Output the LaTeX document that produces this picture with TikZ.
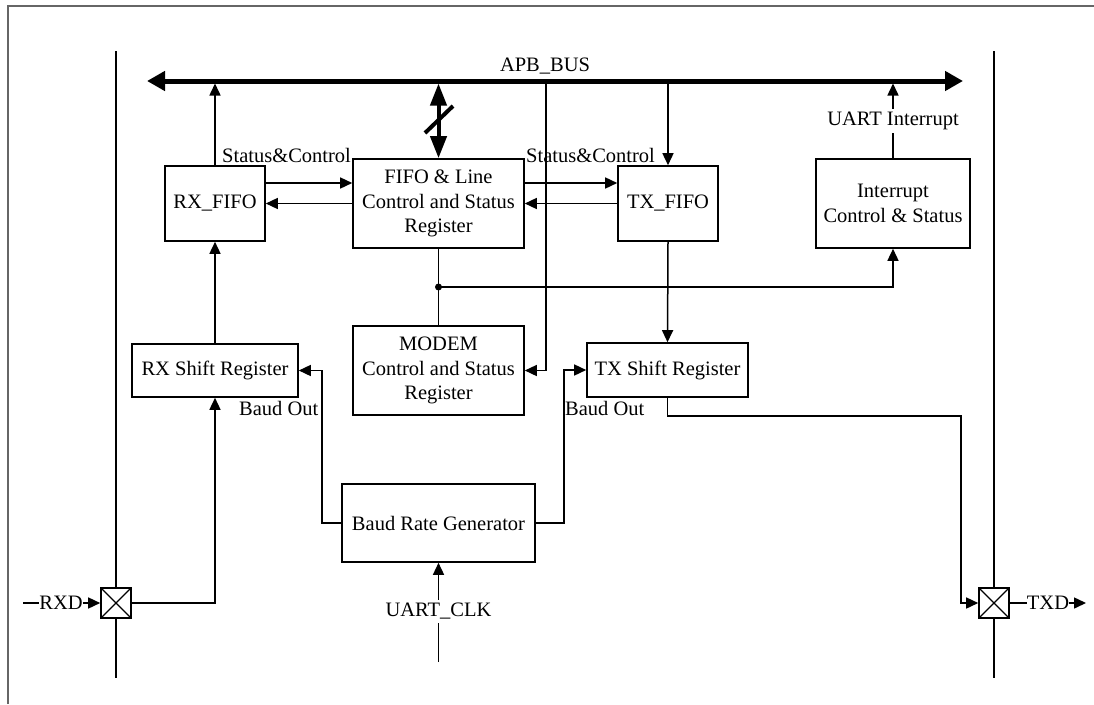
\documentclass[tikz,border=0pt]{standalone}
\usepackage{fontspec}
\setmainfont{Liberation Serif}
\usetikzlibrary{arrows.meta}
\begin{document}
\begin{tikzpicture}[x=1pt,y=-1pt,
  font=\fontsize{20.5}{24.5}\selectfont,
  box/.style={draw, line width=1.6pt, inner sep=0pt, align=center},
  lbl/.style={inner sep=0pt},
  plain/.style={line width=1.5pt},
  conn/.style={line width=1.5pt, -{Triangle[length=12pt,width=11pt]}},
  bus/.style={line width=5pt, {Triangle[length=18pt,width=19pt]}-{Triangle[length=18pt,width=19pt]}},
  bidir/.style={line width=4pt, {Triangle[length=22pt,width=16pt]}-{Triangle[length=22pt,width=16pt]}},
  pad/.style={draw, line width=1.6pt, minimum size=30pt, inner sep=0pt, fill=white,
    path picture={\draw[line width=1.1pt] (path picture bounding box.north west) -- (path picture bounding box.south east)
      (path picture bounding box.north east) -- (path picture bounding box.south west);}},
  dot/.style={circle, fill, inner sep=0pt, minimum size=7pt},
  frame/.style={line width=2pt, draw=black!60}
]
\useasboundingbox (0,0) rectangle (1094,704);
\draw[frame] (8,704) -- (8,6) -- (1094,6);

% bus
\coordinate (busL) at (147,81);
\coordinate (busR) at (963,81);
\coordinate (busbot) at (0,83.5);
\draw[bus] (busL) -- (busR);
\node[lbl] (apb) at (545,66) {APB\_BUS};

% blocks
\node[box, minimum width=100pt, minimum height=75pt] (rxfifo) at (215,203.5) {RX\_FIFO};
\node[box, minimum width=171pt, minimum height=89pt] (fifo) at (438.5,203.5) {FIFO \& Line\\Control and Status\\Register};
\node[box, minimum width=100pt, minimum height=75pt] (txfifo) at (668,203.5) {TX\_FIFO};
\node[box, minimum width=154pt, minimum height=89pt] (intr) at (893,203.5) {Interrupt\\Control \& Status};
\node[box, minimum width=166pt, minimum height=53pt] (rxsh) at (215,370.5) {RX Shift Register};
\node[box, minimum width=171pt, minimum height=89pt] (modem) at (438.5,370.5) {MODEM\\Control and Status\\Register};
\node[box, minimum width=161pt, minimum height=54pt] (txsh) at (667.5,370) {TX Shift Register};
\node[box, minimum width=193pt, minimum height=78pt] (baud) at (438.5,523) {Baud Rate Generator};
\node[pad] (rxpad) at (116,603) {};
\node[pad] (txpad) at (994,603) {};

% pad rails
\coordinate (lt) at (116,51);
\coordinate (lb) at (116,678);
\coordinate (rt) at (994,51);
\coordinate (rb) at (994,678);
\draw[plain] (lt) -- (rxpad.north);
\draw[plain] (rxpad.south) -- (lb);
\draw[plain] (rt) -- (txpad.north);
\draw[plain] (txpad.south) -- (rb);

% bus connections
\draw[conn] (rxfifo.north) -- (rxfifo.north |- busbot);
\draw[bidir] (fifo.north) -- (fifo.north |- busbot);
\draw[line width=4pt] (425,133) -- (453,106);
\draw[conn] (txfifo.north |- busL) -- (txfifo.north);
\draw[conn] (intr.north) -- node[lbl, fill=white, inner sep=3pt] (uint) {UART Interrupt} (intr.north |- busbot);
\coordinate (mb) at (546,81);
\draw[conn] (mb) |- (modem.east);

% labels
\node[lbl, anchor=base west] (sc1) at (222,162) {Status\&Control};
\node[lbl, anchor=base west] (sc2) at (526,162) {Status\&Control};

% fifo links
\draw[conn] ([yshift=20.5pt]rxfifo.east) -- ([yshift=20.5pt]rxfifo.east -| fifo.west);
\draw[conn] (fifo.west |- rxfifo.east) -- (rxfifo.east);
\draw[conn] ([yshift=20.5pt]fifo.east |- txfifo.west) -- ([yshift=20.5pt]txfifo.west);
\draw[conn] (txfifo.west) -- (txfifo.west -| fifo.east);

% junction
\node[dot] (jn) at (438.5,287) {};
\draw[plain] (fifo.south) -- (modem.north);
\draw[conn] (jn.center) -| (intr.south);

% vertical data path
\draw[conn] (rxsh.north) -- (rxfifo.south);
\draw[conn] (txfifo.south) -- (txsh.north);
\draw[conn] (rxpad.east) -| (rxsh.south);

% baud
\draw[conn] (baud.west) -- ++(-19,0) |- (rxsh.east);
\draw[conn] (baud.east) -- ++(28,0) |- (txsh.west);
\node[lbl, anchor=base west] (bo1) at (239,415) {Baud Out};
\node[lbl, anchor=base west] (bo2) at (565,415) {Baud Out};

% tx out
\coordinate (tk) at (961,416);
\draw[conn] (txsh.south) |- (tk) |- (txpad.west);

% uart clk
\coordinate (clk) at (438.5,662);
\draw[conn] (clk) -- node[lbl, fill=white, inner sep=3pt, pos=0.51] (uclk) {UART\_CLK} (baud.south);

% RXD / TXD
\coordinate (rxin) at (23,603);
\node[lbl] (rxd) at (61,603) {RXD};
\draw[plain] (rxin) -- (rxd.west);
\draw[conn] (rxd.east) -- (rxpad.west);
\node[lbl] (txd) at (1048,603) {TXD};
\coordinate (txo) at (1086,603);
\draw[plain] (txpad.east) -- (txd.west);
\draw[conn] (txd.east) -- (txo);
\end{tikzpicture}
\end{document}
